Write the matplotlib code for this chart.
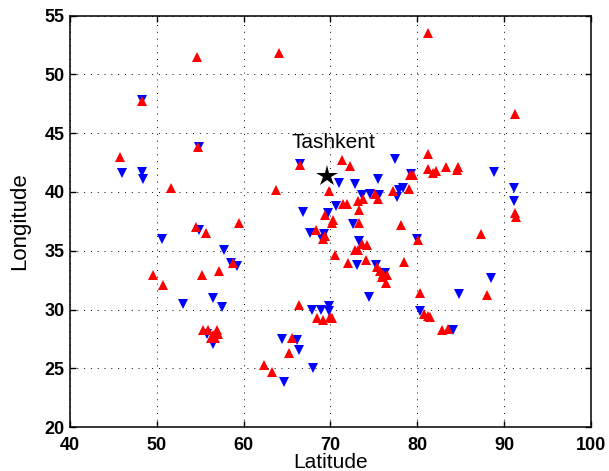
import matplotlib
matplotlib.use("Agg")
import matplotlib.pyplot as plt

plt.rcParams['font.family'] = ['Liberation Sans', 'DejaVu Sans']

# station positions
red_lat = [54.6, 64.1, 81.3, 48.25, 91.3, 54.7, 45.8, 81.3,
           51.6, 54.5, 55.7, 59.5, 58.8, 49.6, 50.75, 55.2, 57.2,
           66.5, 71.3, 72.3, 79.2, 79.5, 63.7, 69.8, 75.1, 75.45, 77.2, 79.1,
           73.2, 73.8, 71.5, 71.9, 73.25, 69.4, 70.3, 70.2, 73.3, 78.1,
           68.4, 69.4, 69.2, 73.6, 74.25, 72.8, 73.2, 70.5, 72.05, 74.1,
           75.35, 75.75, 76.1, 75.9, 76.55, 76.4, 78.5,
           81.3, 81.85, 82.2, 83.3, 84.55, 84.7, 91.3, 91.4, 87.35, 80.1,
           80.3, 88.0,
           55.35, 55.9, 56.9, 57.1, 56.5, 56.2, 56.7,
           66.4, 68.5, 69.1, 69.95, 70.15, 65.6, 65.25, 62.4, 63.3,
           80.8, 81.2, 81.5, 82.9, 83.55]
red_lon = [51.5, 51.8, 53.5, 47.75, 46.6, 43.8, 43.0, 43.2,
           40.35, 37.0, 36.55, 37.4, 34.0, 32.9, 32.1, 32.9, 33.3,
           42.3, 42.75, 42.2, 41.4, 41.4, 40.2, 40.1, 39.8, 39.4, 40.1, 40.25,
           39.25, 39.4, 39.0, 38.95, 38.45, 38.0, 37.6, 37.4, 37.4, 37.2,
           36.75, 36.25, 36.0, 35.6, 35.5, 35.1, 35.1, 34.6, 34.0, 34.2,
           33.6, 33.25, 33.0, 32.8, 32.9, 32.3, 34.05,
           41.95, 41.6, 41.8, 42.15, 41.85, 42.15, 38.2, 37.9, 36.4, 35.9,
           31.4, 31.2,
           28.25, 28.25, 28.3, 27.95, 27.8, 27.6, 27.55,
           30.4, 29.25, 29.15, 29.4, 29.3, 27.6, 26.3, 25.3, 24.7,
           29.65, 29.45, 29.4, 28.25, 28.35]

blue_lat = [48.25, 54.9, 46.0, 48.3, 48.4, 54.9, 50.6, 57.7, 58.6, 59.2,
            56.5, 66.5, 77.4, 71.0, 72.8, 75.5, 73.6, 74.6, 75.6, 77.9,
            78.4, 77.7, 79.3, 70.6, 66.8, 69.7, 72.6, 67.7, 69.3, 69.0,
            73.3, 73.1, 75.3, 76.3, 74.4, 88.8, 91.15, 91.15, 80.0, 88.5,
            84.85, 53.0, 57.55, 55.75, 56.45, 67.85, 68.9, 69.8, 69.8,
            64.4, 66.1, 66.35, 68.0, 64.7, 80.3, 84.1]
blue_lon = [47.8, 43.8, 41.6, 41.7, 41.1, 36.75, 36.0, 35.05, 34.0, 33.7,
            31.0, 42.4, 42.8, 40.8, 40.7, 41.1, 39.7, 39.8, 39.7, 40.2,
            40.35, 39.6, 41.5, 38.8, 38.3, 38.2, 37.25, 36.55, 36.4, 36.0,
            35.8, 33.8, 33.8, 33.15, 31.1, 41.7, 40.35, 39.2, 36.0, 32.7,
            31.3, 30.5, 30.2, 27.9, 27.05, 29.95, 29.95, 30.3, 29.9,
            27.5, 27.4, 26.6, 25.05, 23.85, 29.9, 28.25]

city = 'Tashkent'
city_lat, city_lon = 69.6, 41.35

fig = plt.figure(figsize=(6.09, 4.71), dpi=100)
ax = fig.add_axes([0.115, 0.093, 0.855, 0.874])

ax.plot(blue_lat, blue_lon, 'v', color='b', markersize=7, markeredgewidth=0, linestyle='none')
ax.plot(red_lat, red_lon, '^', color='r', markersize=7, markeredgewidth=0, linestyle='none')
ax.plot(city_lat, city_lon, '*', color='k', markersize=16, markeredgewidth=0)
ax.text(65.5, 43.7, city, fontsize=15, ha='left', va='baseline')

ax.set_xlim(40, 100)
ax.set_ylim(20, 55)
ax.set_xticks(range(40, 101, 10))
ax.set_yticks(range(20, 56, 5))
ax.grid(True, color='k', linestyle=(0, (1, 6)), linewidth=0.7)
ax.tick_params(direction='in', top=True, right=True, length=4, width=1)
ax.tick_params(axis='x', pad=7)
ax.tick_params(axis='y', pad=4)
for lab in ax.get_xticklabels() + ax.get_yticklabels():
    lab.set_fontsize(13)
    lab.set_fontweight('bold')
for sp in ax.spines.values():
    sp.set_linewidth(1.1)

ax.set_xlabel('Latitude', fontsize=15, labelpad=-1)
ax.set_ylabel('Longitude', fontsize=16, labelpad=10)

fig.savefig('out.png', dpi=100)
